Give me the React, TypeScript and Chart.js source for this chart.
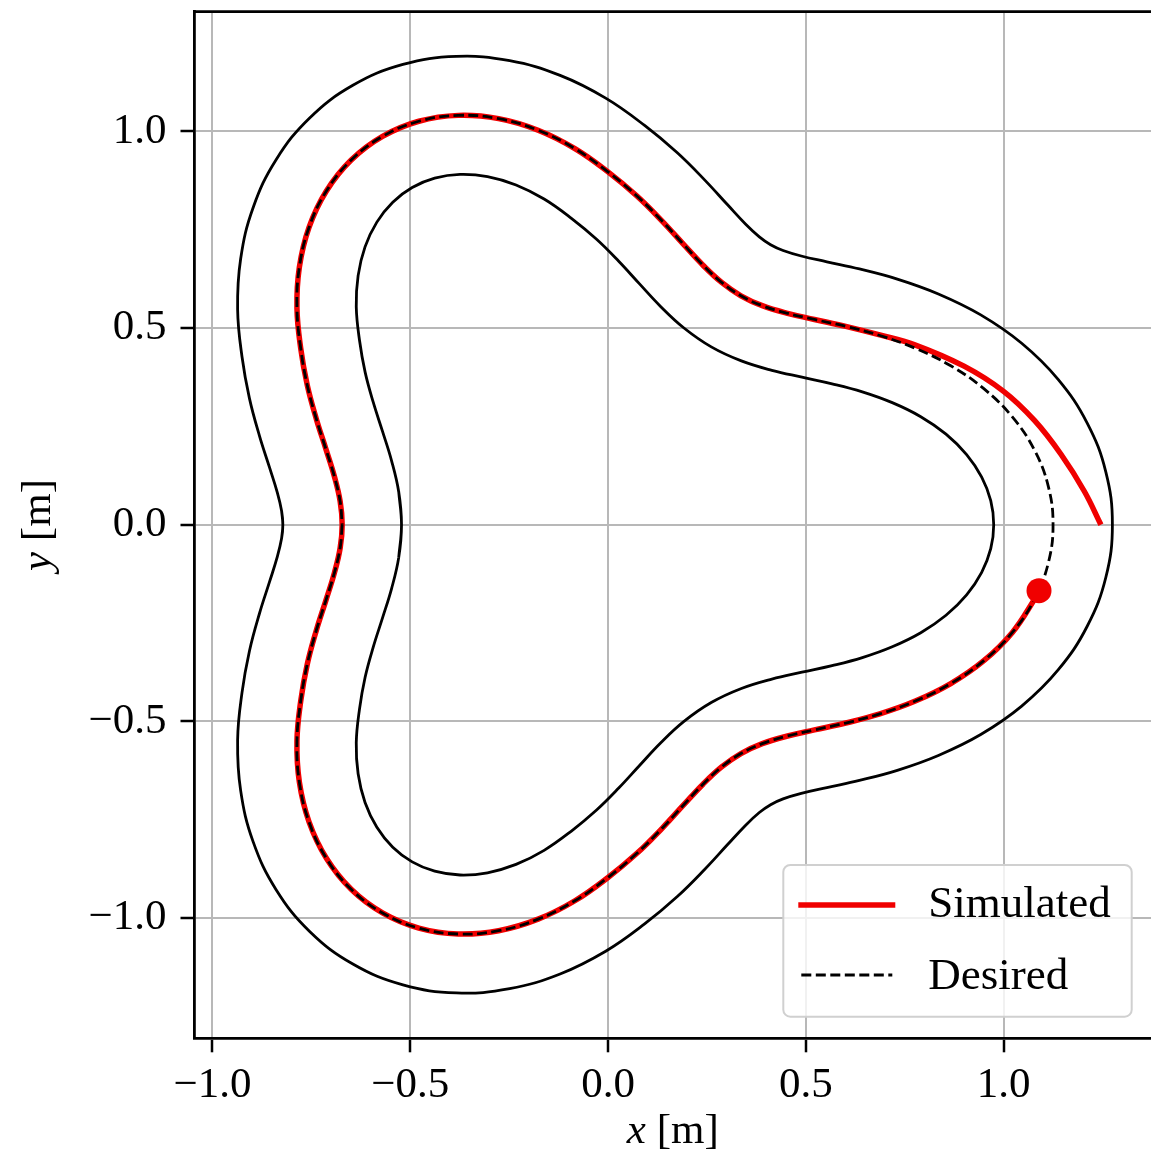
import React, { useEffect, useRef } from "react";
import { Chart, registerables } from "chart.js";

Chart.register(...registerables);

// ---------------- data ----------------
const xTicks = [-1.0, -0.5, 0.0, 0.5, 1.0];
const yTicks = [-1.0, -0.5, 0.0, 0.5, 1.0];
const xRange = [-1.0453, 1.3726];
const yRange = [-1.3059, 1.3043];
const seriesLabels = ["Simulated", "Desired"];
const axisTitles = { x: ["x", " [m]"], y: ["y", " [m]"] };

// desired centre line of the track (closed loop)
const desiredPath: number[][] = [
  [-0.672, 0], [-0.6771, -0.0593], [-0.6915, -0.1219], [-0.7127, -0.191], [-0.7372, -0.2683],
  [-0.7602, -0.3545], [-0.7768, -0.4485], [-0.7863, -0.5506], [-0.7802, -0.6547], [-0.7558, -0.7558],
  [-0.7119, -0.8483], [-0.6492, -0.9271], [-0.57, -0.9872], [-0.4783, -1.0257], [-0.3787, -1.0407],
  [-0.2766, -1.0324], [-0.1768, -1.003], [-0.0837, -0.9562], [0, -0.897], [0.0731, -0.8356],
  [0.1362, -0.7726], [0.191, -0.7127], [0.2401, -0.6598], [0.2872, -0.616], [0.336, -0.582],
  [0.3899, -0.5568], [0.4513, -0.5379], [0.5218, -0.5218], [0.6009, -0.5043], [0.6871, -0.4811],
  [0.7768, -0.4485], [0.8664, -0.404], [0.95, -0.3458], [1.0221, -0.2739], [1.0778, -0.19],
  [1.113, -0.0974], [1.125, 0], [1.113, 0.0974], [1.0778, 0.19], [1.0221, 0.2739],
  [0.95, 0.3458], [0.8664, 0.404], [0.7768, 0.4485], [0.6871, 0.4811], [0.6009, 0.5043],
  [0.5218, 0.5218], [0.4513, 0.5379], [0.3899, 0.5568], [0.336, 0.582], [0.2872, 0.616],
  [0.2401, 0.6598], [0.191, 0.7127], [0.1362, 0.7726], [0.0731, 0.8356], [0, 0.897],
  [-0.0837, 0.9562], [-0.1768, 1.003], [-0.2766, 1.0324], [-0.3787, 1.0407], [-0.4783, 1.0257],
  [-0.57, 0.9872], [-0.6492, 0.9271], [-0.7119, 0.8483], [-0.7558, 0.7558], [-0.7802, 0.6547],
  [-0.7863, 0.5506], [-0.7768, 0.4485], [-0.7602, 0.3545], [-0.7372, 0.2683], [-0.7127, 0.191],
  [-0.6915, 0.1219], [-0.6771, 0.0593], [-0.672, 0],
];

// outer track boundary (closed loop, one point of overlap at each end)
const outerBoundary: number[][] = [
  [-0.8251, 0.0347], [-0.822, 0], [-0.8251, -0.0347], [-0.8359, -0.0814], [-0.8555, -0.1449],
  [-0.8809, -0.2252], [-0.9064, -0.3211], [-0.9253, -0.4275], [-0.9363, -0.5473], [-0.9286, -0.6761],
  [-0.8974, -0.8052], [-0.8394, -0.9273], [-0.7542, -1.0342], [-0.645, -1.1171], [-0.5184, -1.1702],
  [-0.3834, -1.1906], [-0.2486, -1.1798], [-0.1211, -1.1423], [-0.0059, -1.0845], [0.0925, -1.0151],
  [0.1752, -0.9455], [0.2453, -0.8755], [0.3023, -0.8133], [0.3474, -0.7646], [0.3825, -0.7319],
  [0.411, -0.7119], [0.4426, -0.6972], [0.4885, -0.6832], [0.5532, -0.6684], [0.6355, -0.6502],
  [0.7313, -0.6245], [0.8351, -0.5867], [0.9422, -0.5335], [1.0457, -0.4613], [1.1378, -0.3694],
  [1.211, -0.2589], [1.2585, -0.1337], [1.275, 0], [1.2585, 0.1337], [1.211, 0.2589],
  [1.1378, 0.3694], [1.0457, 0.4613], [0.9422, 0.5335], [0.8351, 0.5867], [0.7313, 0.6245],
  [0.6355, 0.6502], [0.5532, 0.6684], [0.4885, 0.6832], [0.4426, 0.6972], [0.411, 0.7119],
  [0.3825, 0.7319], [0.3474, 0.7646], [0.3023, 0.8133], [0.2453, 0.8755], [0.1752, 0.9455],
  [0.0925, 1.0151], [-0.0059, 1.0845], [-0.1211, 1.1423], [-0.2486, 1.1798], [-0.3834, 1.1906],
  [-0.5184, 1.1702], [-0.645, 1.1171], [-0.7542, 1.0342], [-0.8394, 0.9273], [-0.8974, 0.8052],
  [-0.9286, 0.6761], [-0.9363, 0.5473], [-0.9253, 0.4275], [-0.9064, 0.3211], [-0.8809, 0.2252],
  [-0.8555, 0.1449], [-0.8359, 0.0814], [-0.8251, 0.0347], [-0.822, 0], [-0.8251, -0.0347],
];

// inner track boundary (closed loop, one point of overlap at each end)
const innerBoundary: number[][] = [
  [-0.5291, 0.0838], [-0.522, 0], [-0.5291, -0.0838], [-0.5471, -0.1624], [-0.57, -0.2371],
  [-0.5935, -0.3114], [-0.614, -0.3879], [-0.6283, -0.4695], [-0.6364, -0.5539], [-0.6317, -0.6333],
  [-0.6142, -0.7063], [-0.5843, -0.7693], [-0.5441, -0.82], [-0.495, -0.8573], [-0.4381, -0.8811],
  [-0.3741, -0.8907], [-0.3046, -0.885], [-0.2325, -0.8638], [-0.1615, -0.828], [-0.0925, -0.7789],
  [-0.0289, -0.7256], [0.0271, -0.6697], [0.0797, -0.6122], [0.1328, -0.555], [0.192, -0.5001],
  [0.261, -0.4521], [0.3371, -0.4164], [0.4142, -0.3925], [0.4903, -0.3751], [0.5664, -0.3583],
  [0.6429, -0.3378], [0.7185, -0.3103], [0.7906, -0.2746], [0.8544, -0.2302], [0.9065, -0.1783],
  [0.9446, -0.1211], [0.9675, -0.0611], [0.975, 0], [0.9675, 0.0611], [0.9446, 0.1211],
  [0.9065, 0.1783], [0.8544, 0.2302], [0.7906, 0.2746], [0.7185, 0.3103], [0.6429, 0.3378],
  [0.5664, 0.3583], [0.4903, 0.3751], [0.4142, 0.3925], [0.3371, 0.4164], [0.261, 0.4521],
  [0.192, 0.5001], [0.1328, 0.555], [0.0797, 0.6122], [0.0271, 0.6697], [-0.0289, 0.7256],
  [-0.0925, 0.7789], [-0.1615, 0.828], [-0.2325, 0.8638], [-0.3046, 0.885], [-0.3741, 0.8907],
  [-0.4381, 0.8811], [-0.495, 0.8573], [-0.5441, 0.82], [-0.5843, 0.7693], [-0.6142, 0.7063],
  [-0.6317, 0.6333], [-0.6364, 0.5539], [-0.6283, 0.4695], [-0.614, 0.3879], [-0.5935, 0.3114],
  [-0.57, 0.2371], [-0.5471, 0.1624], [-0.5291, 0.0838], [-0.522, 0], [-0.5291, -0.0838],
];

// simulated trajectory (starts at the right, converges, ends at the robot position)
const simulatedPath: number[][] = [
  [1.246, 0], [1.204, 0.085], [1.145, 0.179], [1.078, 0.265], [1.0, 0.339],
  [0.9, 0.403], [0.774, 0.458], [0.687, 0.4825], [0.6009, 0.5043], [0.5218, 0.5218],
  [0.4513, 0.5379], [0.3899, 0.5568], [0.336, 0.582], [0.2872, 0.616], [0.2401, 0.6598],
  [0.191, 0.7127], [0.1362, 0.7726], [0.0731, 0.8356], [0, 0.897], [-0.0837, 0.9562],
  [-0.1768, 1.003], [-0.2766, 1.0324], [-0.3787, 1.0407], [-0.4783, 1.0257], [-0.57, 0.9872],
  [-0.6492, 0.9271], [-0.7119, 0.8483], [-0.7558, 0.7558], [-0.7802, 0.6547], [-0.7863, 0.5506],
  [-0.7768, 0.4485], [-0.7602, 0.3545], [-0.7372, 0.2683], [-0.7127, 0.191], [-0.6915, 0.1219],
  [-0.6771, 0.0593], [-0.672, 0], [-0.6771, -0.0593], [-0.6915, -0.1219], [-0.7127, -0.191],
  [-0.7372, -0.2683], [-0.7602, -0.3545], [-0.7768, -0.4485], [-0.7863, -0.5506], [-0.7802, -0.6547],
  [-0.7558, -0.7558], [-0.7119, -0.8483], [-0.6492, -0.9271], [-0.57, -0.9872], [-0.4783, -1.0257],
  [-0.3787, -1.0407], [-0.2766, -1.0324], [-0.1768, -1.003], [-0.0837, -0.9562], [0, -0.897],
  [0.0731, -0.8356], [0.1362, -0.7726], [0.191, -0.7127], [0.2401, -0.6598], [0.2872, -0.616],
  [0.336, -0.582], [0.3899, -0.5568], [0.4513, -0.5379], [0.5218, -0.5218], [0.6009, -0.5043],
  [0.6871, -0.4811], [0.7768, -0.4485], [0.8664, -0.404], [0.95, -0.3458], [1.0221, -0.2739],
  [1.0778, -0.19], [1.0895, -0.1678],
];

const robotPosition: number[][] = [[1.0895, -0.1678]];

// ---------------- styling ----------------
const W = 1151;
const H = 1164;
const FONT = "'Liberation Serif', 'Times New Roman', serif";
const FS = 43;
const LEGEND_FS = 45;
const RED = "#f00000";
const GRID = "#b8b8b8";
const DASH = [10, 4.5];
const LW = 2.8;

const toXY = (pts: number[][]) => pts.map(([x, y]) => ({ x, y }));
const fmt = (v: number) => (v < 0 ? "\u2212" : "") + Math.abs(v).toFixed(1);

const decorPlugin = {
  id: "decor",
  afterDraw(chart: any) {
    const { ctx, chartArea: a } = chart;
    ctx.save();
    // top frame line
    ctx.strokeStyle = "#000";
    ctx.lineWidth = LW;
    ctx.beginPath();
    ctx.moveTo(a.left - LW / 2, a.top);
    ctx.lineTo(a.right, a.top);
    ctx.stroke();

    // legend box (lower right, inside axes)
    const bw = 348.4;
    const bh = 151.7;
    const bx = a.right - 19.3 - bw;
    const by = a.bottom - 21.6 - bh;
    const r = 7;
    ctx.beginPath();
    ctx.moveTo(bx + r, by);
    ctx.lineTo(bx + bw - r, by);
    ctx.arcTo(bx + bw, by, bx + bw, by + r, r);
    ctx.lineTo(bx + bw, by + bh - r);
    ctx.arcTo(bx + bw, by + bh, bx + bw - r, by + bh, r);
    ctx.lineTo(bx + r, by + bh);
    ctx.arcTo(bx, by + bh, bx, by + bh - r, r);
    ctx.lineTo(bx, by + r);
    ctx.arcTo(bx, by, bx + r, by, r);
    ctx.closePath();
    ctx.fillStyle = "rgba(255,255,255,0.8)";
    ctx.fill();
    ctx.strokeStyle = "#d0d0d0";
    ctx.lineWidth = 2;
    ctx.stroke();

    ctx.strokeStyle = RED;
    ctx.lineWidth = 5.5;
    ctx.beginPath();
    ctx.moveTo(bx + 15, by + 40);
    ctx.lineTo(bx + 112, by + 40);
    ctx.stroke();

    ctx.strokeStyle = "#000";
    ctx.lineWidth = LW;
    ctx.setLineDash(DASH);
    ctx.beginPath();
    ctx.moveTo(bx + 18, by + 110);
    ctx.lineTo(bx + 109, by + 110);
    ctx.stroke();
    ctx.setLineDash([]);

    ctx.fillStyle = "#000";
    ctx.textAlign = "left";
    ctx.textBaseline = "alphabetic";
    ctx.font = `${LEGEND_FS}px ${FONT}`;
    ctx.fillText(seriesLabels[0], bx + 145, by + 51.7);
    ctx.fillText(seriesLabels[1], bx + 145, by + 123.5);

    // axis titles (italic variable + roman unit)
    const drawTitle = (parts: string[], cx: number, baseline: number) => {
      ctx.font = `italic ${FS}px ${FONT}`;
      const w1 = ctx.measureText(parts[0]).width;
      ctx.font = `${FS}px ${FONT}`;
      const w2 = ctx.measureText(parts[1]).width;
      const start = cx - (w1 + w2) / 2;
      ctx.font = `italic ${FS}px ${FONT}`;
      ctx.fillText(parts[0], start, baseline);
      ctx.font = `${FS}px ${FONT}`;
      ctx.fillText(parts[1], start + w1, baseline);
    };
    drawTitle(axisTitles.x, (a.left + a.right) / 2, a.bottom + 104.7);
    ctx.save();
    ctx.translate(a.left - 144.5, (a.top + a.bottom) / 2);
    ctx.rotate(-Math.PI / 2);
    drawTitle(axisTitles.y, 0, 0);
    ctx.restore();

    ctx.restore();
  },
};

const lineDefaults = {
  showLine: true,
  pointRadius: 0,
  pointHoverRadius: 0,
  fill: false,
  tension: 0.4,
  borderJoinStyle: "round" as const,
};

const zeroPadding = (s: any) => {
  s.paddingTop = 0;
  s.paddingBottom = 0;
  s.paddingLeft = 0;
  s.paddingRight = 0;
};

export default function App() {
  const ref = useRef<HTMLCanvasElement | null>(null);

  useEffect(() => {
    document.body.style.margin = "0";
    const canvas = ref.current;
    if (!canvas) return;
    const chart = new Chart(canvas, {
      type: "line",
      data: {
        datasets: [
          {
            ...lineDefaults,
            label: seriesLabels[0],
            data: toXY(simulatedPath),
            borderColor: RED,
            backgroundColor: RED,
            borderWidth: 5.5,
            order: 2,
          },
          {
            ...lineDefaults,
            label: seriesLabels[1],
            data: toXY(desiredPath),
            borderColor: "#000",
            backgroundColor: "#000",
            borderWidth: LW,
            borderDash: DASH,
            order: 1,
          },
          {
            ...lineDefaults,
            label: "Outer boundary",
            data: toXY(outerBoundary),
            borderColor: "#000",
            borderWidth: LW,
            order: 3,
          },
          {
            ...lineDefaults,
            label: "Inner boundary",
            data: toXY(innerBoundary),
            borderColor: "#000",
            borderWidth: LW,
            order: 3,
          },
          {
            label: "Current position",
            data: toXY(robotPosition),
            showLine: false,
            pointRadius: 12.5,
            pointHoverRadius: 12.5,
            pointBackgroundColor: RED,
            pointBorderColor: RED,
            pointBorderWidth: 0,
            backgroundColor: RED,
            borderColor: RED,
            order: 0,
          },
        ],
      },
      options: {
        animation: false,
        responsive: false,
        maintainAspectRatio: false,
        devicePixelRatio: 1,
        events: [],
        layout: { autoPadding: false, padding: { top: 11.7, right: 0, left: 0, bottom: 0 } },
        plugins: {
          legend: { display: false },
          tooltip: { enabled: false },
          title: { display: false },
        },
        scales: {
          x: {
            type: "linear",
            min: xRange[0],
            max: xRange[1],
            afterBuildTicks: (s: any) => {
              s.ticks = xTicks.map((v) => ({ value: v }));
            },
            afterFit: (s: any) => {
              s.height = 125.7;
              zeroPadding(s);
            },
            grid: {
              color: GRID,
              lineWidth: 2,
              tickColor: "#000",
              tickWidth: 2.5,
              tickLength: 14,
              drawTicks: true,
            },
            border: { color: "#000", width: LW },
            ticks: {
              color: "#000",
              font: { family: FONT, size: FS },
              padding: 8,
              maxRotation: 0,
              minRotation: 0,
              autoSkip: false,
              callback: (v: any) => fmt(Number(v)),
            },
          },
          y: {
            type: "linear",
            min: yRange[0],
            max: yRange[1],
            afterBuildTicks: (s: any) => {
              s.ticks = yTicks.map((v) => ({ value: v }));
            },
            afterFit: (s: any) => {
              s.width = 194.5;
              zeroPadding(s);
            },
            grid: {
              color: GRID,
              lineWidth: 2,
              tickColor: "#000",
              tickWidth: 2.5,
              tickLength: 14,
              drawTicks: true,
            },
            border: { color: "#000", width: LW },
            ticks: {
              color: "#000",
              font: { family: FONT, size: FS },
              padding: 14,
              autoSkip: false,
              callback: (v: any) => fmt(Number(v)),
            },
          },
        },
      },
      plugins: [decorPlugin],
    } as any);
    return () => chart.destroy();
  }, []);

  return (
    <div style={{ width: W, height: H, position: "relative", background: "#fff" }}>
      <canvas ref={ref} width={W} height={H} style={{ display: "block", width: W, height: H }} />
    </div>
  );
}
